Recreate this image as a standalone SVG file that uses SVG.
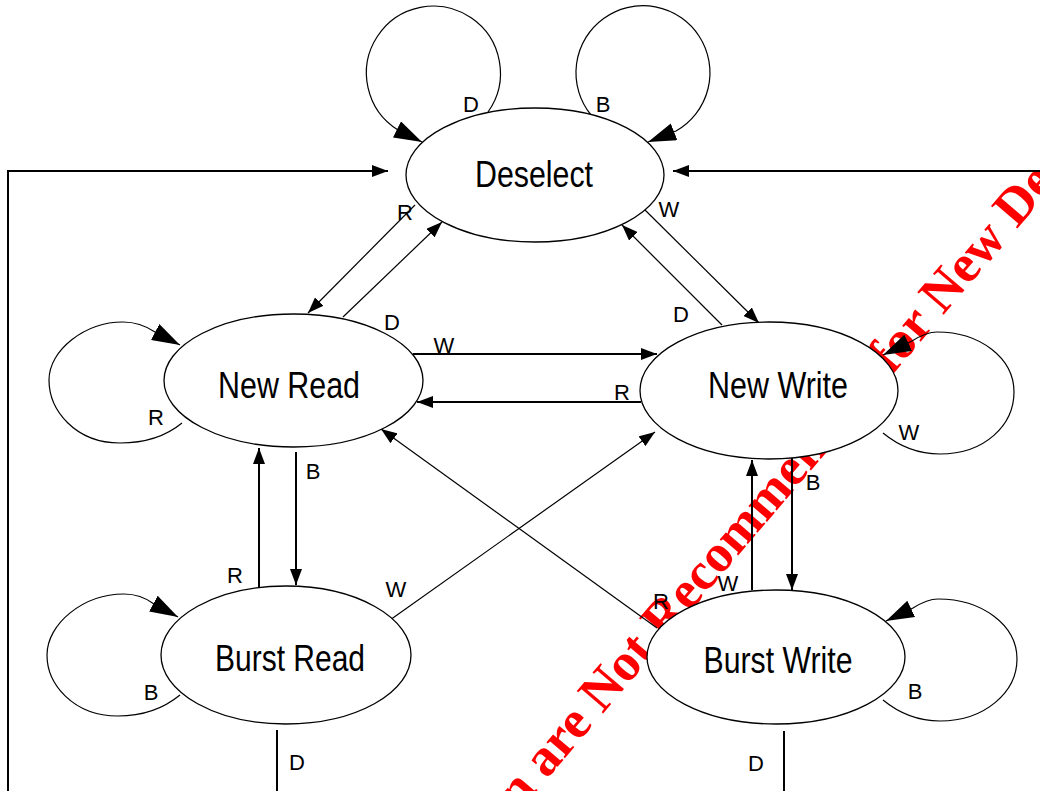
<svg xmlns="http://www.w3.org/2000/svg" width="1040" height="791" viewBox="0 0 1040 791">
<style>
.node{fill:#fff;stroke:#000;stroke-width:1.3}
.nt{font-family:"Liberation Sans",Arial,sans-serif;font-size:36px;fill:#000;text-anchor:middle}
.lbl{font-family:"Liberation Sans",Arial,sans-serif;font-size:22px;fill:#000;text-anchor:middle}
.c{fill:none;stroke:#000;stroke-width:1.2}
.o{fill:none;stroke:#000;stroke-width:2}
.sa{marker-end:url(#sm)}
.ba{marker-end:url(#big)}
.wm{font-family:"Liberation Serif","Times New Roman",serif;font-weight:bold;font-size:53px;fill:#f00}
</style>
<defs>
<marker id="sm" viewBox="0 0 16 12" refX="16" refY="6" markerWidth="16" markerHeight="12" markerUnits="userSpaceOnUse" orient="auto"><path d="M0,0 L16,6 L0,12 z" fill="#000"/></marker>
<marker id="big" viewBox="0 0 28 18" refX="28" refY="9" markerWidth="28" markerHeight="18" markerUnits="userSpaceOnUse" orient="auto"><path d="M0,0 L28,9 L0,18 z" fill="#000"/></marker>
</defs>
<rect width="1040" height="791" fill="#fff"/>
<text class="wm" transform="translate(519,812) rotate(-49.5)">n are Not Recommended for New De</text>
<g id="connectors">
<path class="c ba" d="M488,112 A67,67 0 1 0 398,130 L422,142"/>
<path class="c ba" d="M591,115 A67,67 0 1 1 676,131 L648,142"/>
<path class="c ba" d="M182,423 C165,437 145,443 120,443 C75,443 49,410 49,380 C49,350 85,322 123,322 C136,322 146,326 155,332 L180,345"/>
<path class="c ba" d="M180,695 C163,709 143,716 118,716 C73,716 47,684 47,655 C47,624 83,594 124,594 C136,594 146,598 154,604 L178,617"/>
<path class="c ba" d="M883,433 C900,447 918,454 940,454 C985,454 1014,425 1014,392 C1014,358 980,332 937,332 C928,332 920,336 912,341 L883,355"/>
<path class="c ba" d="M883,700 C900,714 918,721 940,721 C985,721 1017,692 1017,659 C1017,625 982,599 938,599 C929,599 921,603 913,608 L886,621"/>
<path class="c sa" d="M415,205 L308,313"/>
<path class="c sa" d="M343,317 L442,222"/>
<path class="c sa" d="M643,208 L759,323"/>
<path class="c sa" d="M722,325 L622,225"/>
<path class="o sa" d="M413,354 L657,354"/>
<path class="o sa" d="M641,402 L417,402"/>
<path class="o sa" d="M259,590 L259,448"/>
<path class="o sa" d="M296,452 L296,585"/>
<path class="o sa" d="M752,590 L752,460"/>
<path class="o sa" d="M792,458 L792,590"/>
<path class="c sa" d="M390,620 L655,432"/>
<path class="c sa" d="M657,628 L381,429"/>
<path class="o" d="M277,730 L277,791"/>
<path class="o" d="M784,731 L784,791"/>
<path class="o sa" d="M8,791 L8,171 L388,171"/>
<path class="o sa" d="M1040,171 L673,171"/>
<text class="lbl" x="471" y="112">D</text>
<text class="lbl" x="603" y="112">B</text>
<text class="lbl" x="405" y="220">R</text>
<text class="lbl" x="392" y="330">D</text>
<text class="lbl" x="669" y="217">W</text>
<text class="lbl" x="681" y="322">D</text>
<text class="lbl" x="156" y="425">R</text>
<text class="lbl" x="444" y="353">W</text>
<text class="lbl" x="622" y="400">R</text>
<text class="lbl" x="909" y="440">W</text>
<text class="lbl" x="313" y="479">B</text>
<text class="lbl" x="813" y="490">B</text>
<text class="lbl" x="235" y="583">R</text>
<text class="lbl" x="396" y="597">W</text>
<text class="lbl" x="661" y="609">R</text>
<text class="lbl" x="728" y="591">W</text>
<text class="lbl" x="151" y="700">B</text>
<text class="lbl" x="915" y="699">B</text>
<text class="lbl" x="297" y="770">D</text>
<text class="lbl" x="756" y="771">D</text>
</g>
<g id="deselect"><ellipse class="node" cx="535" cy="175" rx="129" ry="67"/><text class="nt" x="534" y="187" textLength="118" lengthAdjust="spacingAndGlyphs">Deselect</text></g>
<g id="new-read"><ellipse class="node" cx="293.5" cy="380.5" rx="129.5" ry="66.5"/><text class="nt" x="289" y="398" textLength="142" lengthAdjust="spacingAndGlyphs">New Read</text></g>
<g id="new-write"><ellipse class="node" cx="769" cy="390.5" rx="129" ry="68.5"/><text class="nt" x="778" y="398" textLength="140" lengthAdjust="spacingAndGlyphs">New Write</text></g>
<g id="burst-read"><ellipse class="node" cx="286" cy="655" rx="125" ry="69"/><text class="nt" x="290" y="671" textLength="150" lengthAdjust="spacingAndGlyphs">Burst Read</text></g>
<g id="burst-write"><ellipse class="node" cx="776" cy="657" rx="129" ry="67"/><text class="nt" x="778" y="673" textLength="149" lengthAdjust="spacingAndGlyphs">Burst Write</text></g>
</svg>
